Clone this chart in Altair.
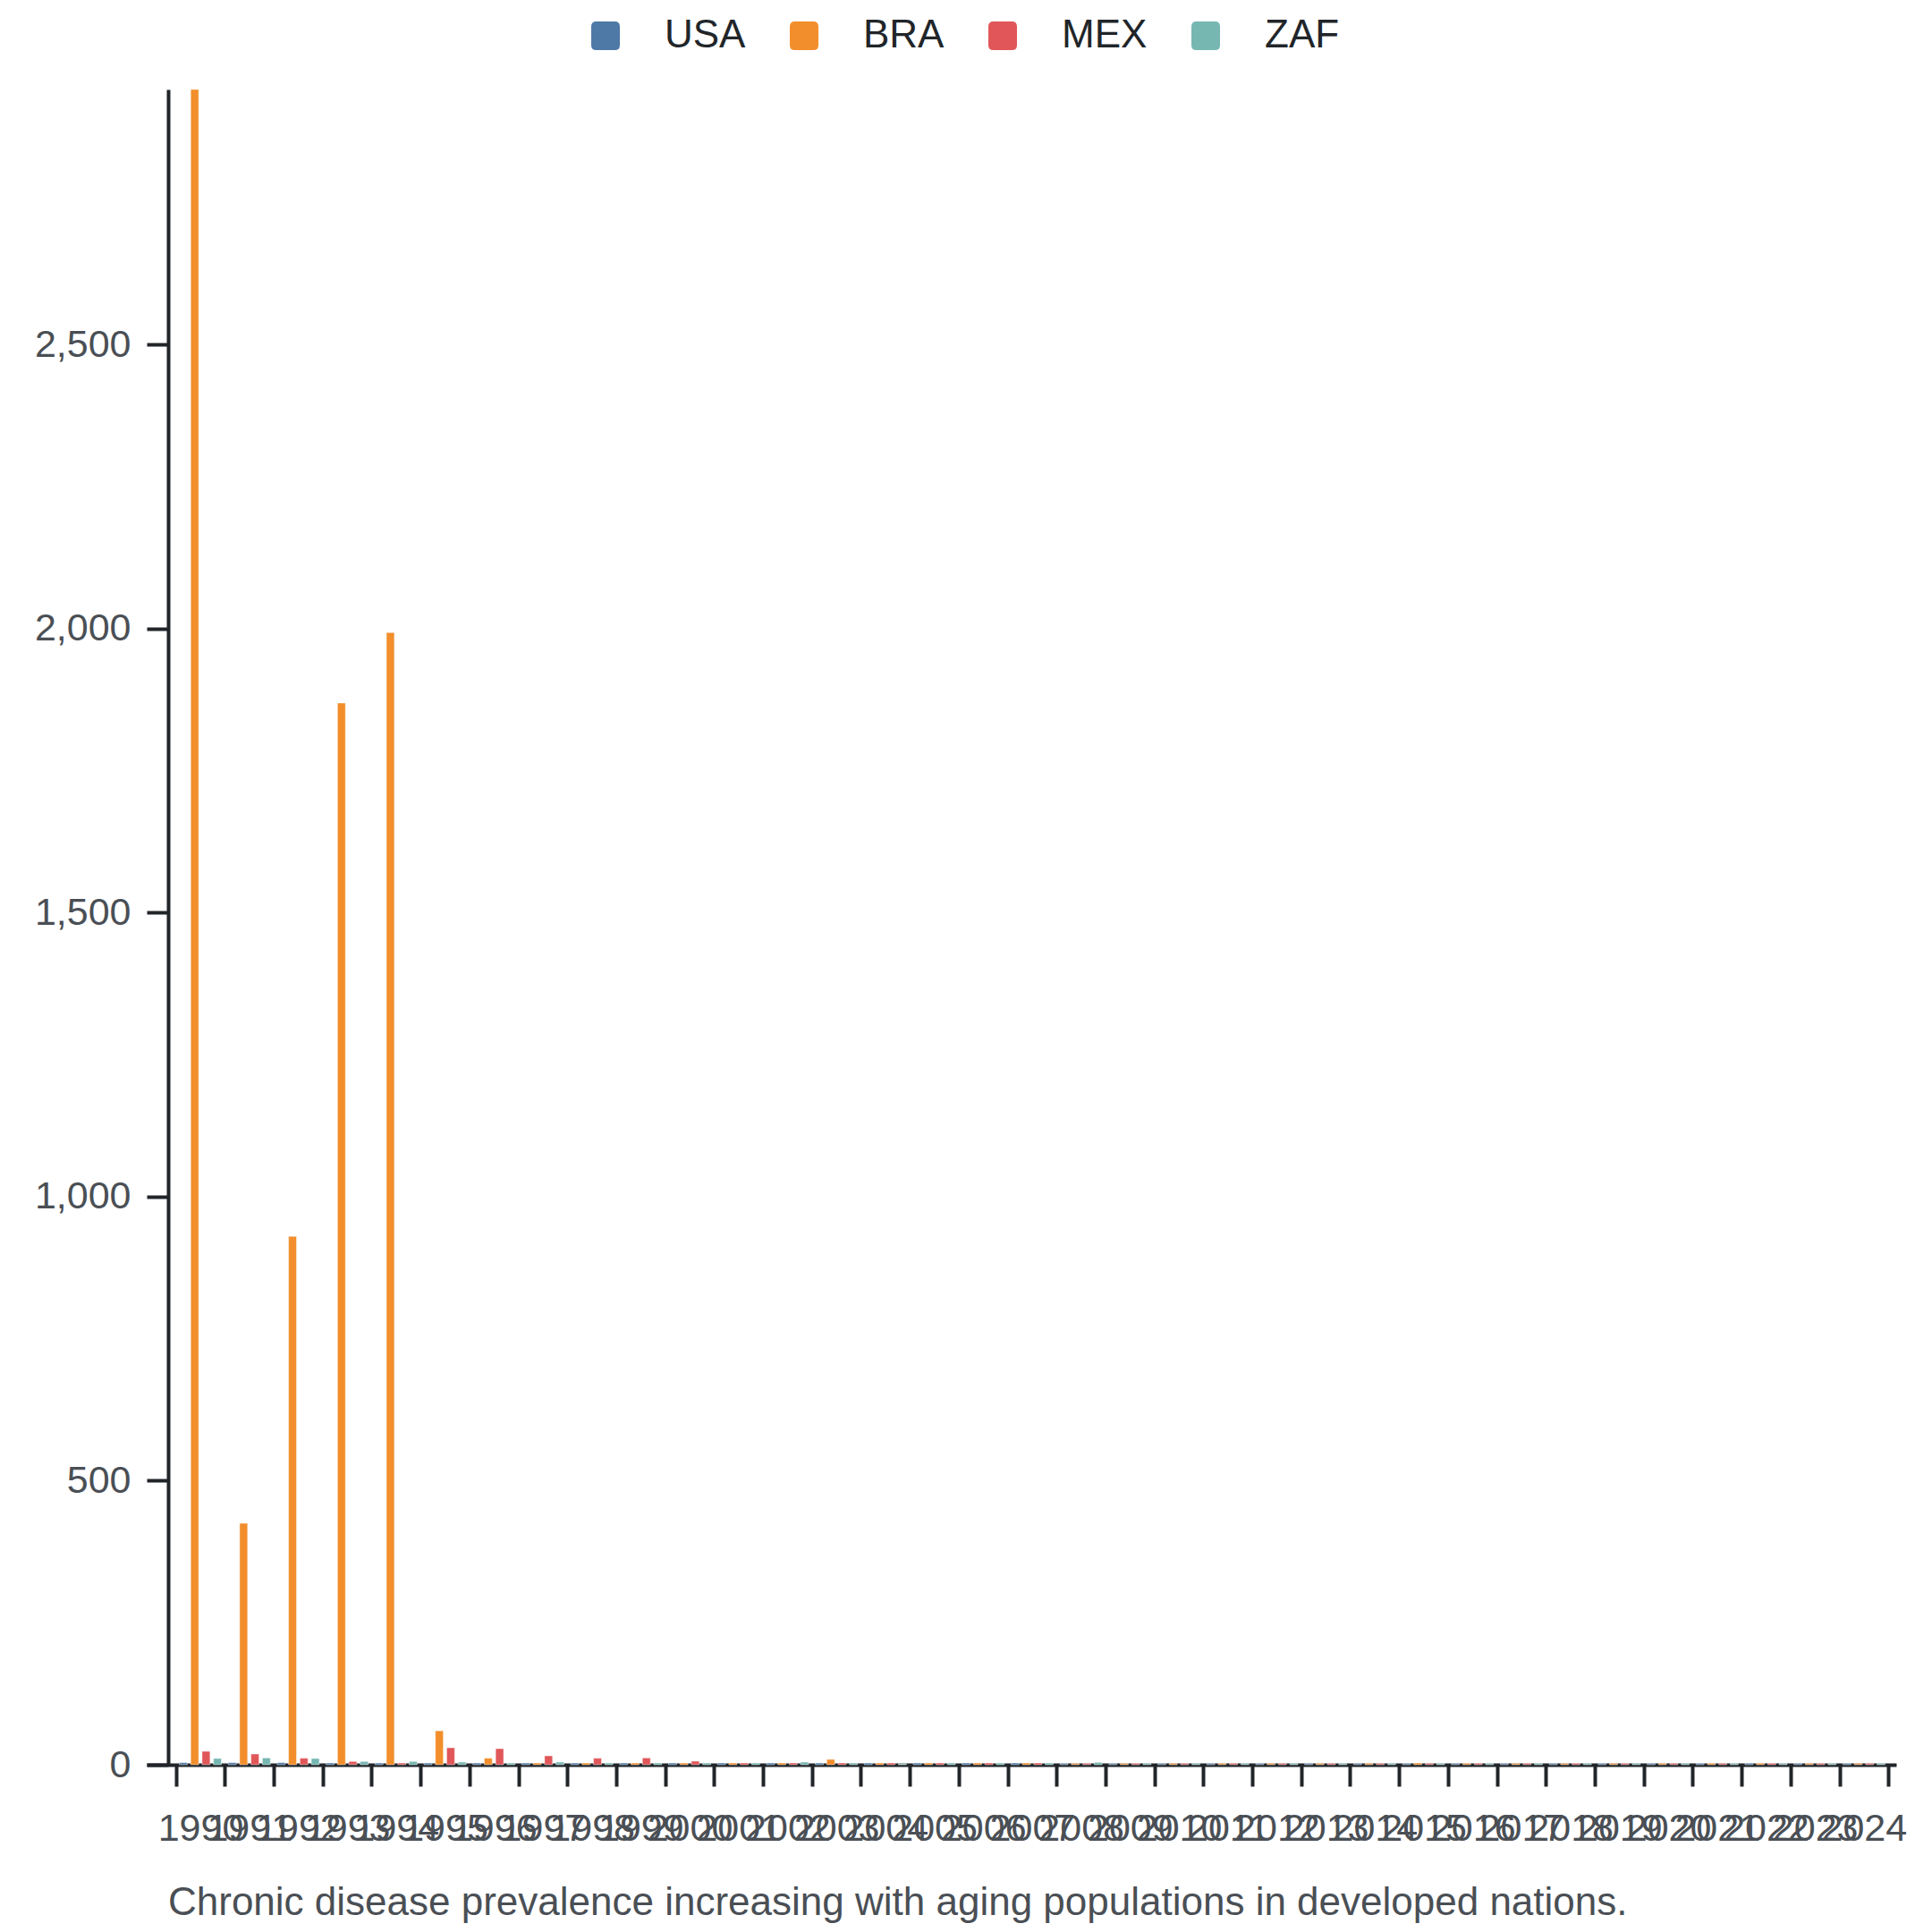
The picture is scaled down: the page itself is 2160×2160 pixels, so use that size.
import altair as alt
import pandas as pd

years = ["1990", "1991", "1992", "1993", "1994", "1995", "1996", "1997", "1998", "1999",
         "2000", "2001", "2002", "2003", "2004", "2005", "2006", "2007", "2008", "2009",
         "2010", "2011", "2012", "2013", "2014", "2015", "2016", "2017", "2018", "2019",
         "2020", "2021", "2022", "2023", "2024"]
countries = ["USA", "BRA", "MEX", "ZAF"]
usa = [3.7, 3.7, 3.7, 3.1, 3.0, 3.0, 3.0, 3.0, 3.0, 3.1,
       3.1, 3.1, 3.1, 3.1, 3.1, 3.1, 3.1, 3.1, 2.2, 2.1,
       2.2, 2.2, 2.2, 2.1, 2.2, 2.1, 2.2, 2.2, 2.2, 2.2,
       2.1, 2.4, 2.6, 2.3, 2.2]
bra = [2949, 425, 930, 1869, 1993, 59.7, 11.5, 3.1, 3.1, 3.1,
       3.1, 3.1, 3.1, 9.4, 3.1, 3.1, 3.1, 3.1, 2.2, 2.2,
       2.2, 2.3, 2.2, 2.2, 2.2, 3.0, 2.4, 2.2, 2.2, 2.2,
       2.2, 2.4, 2.5, 2.2, 2.2]
mex = [23.6, 18.9, 11.5, 5.8, 3.0, 29.9, 28.3, 15.7, 11.5, 12.0,
       6.3, 3.1, 3.1, 3.1, 3.1, 3.1, 3.1, 3.1, 2.2, 2.2,
       2.2, 2.2, 2.2, 2.2, 2.2, 2.2, 2.2, 2.3, 2.2, 2.2,
       2.2, 2.3, 2.4, 2.3, 2.2]
zaf = [11.0, 12.0, 11.0, 5.8, 5.8, 4.7, 3.1, 4.7, 3.1, 3.1,
       3.1, 3.1, 4.7, 3.1, 1.6, 3.1, 3.1, 3.1, 4.2, 2.2,
       2.2, 2.2, 2.2, 2.2, 2.2, 2.2, 2.2, 2.2, 2.2, 2.2,
       2.2, 2.2, 2.3, 2.2, 2.2]
colors = ["#4e79a7", "#f28e2b", "#e15759", "#76b7b2"]
y_ticks = [0, 500, 1000, 1500, 2000, 2500]
title_text = "Chronic disease prevalence increasing with aging populations in developed nations."

rows = []
for c, vals in zip(countries, [usa, bra, mex, zaf]):
    for yr, v in zip(years, vals):
        rows.append({"year": yr, "country": c, "value": v})
df = pd.DataFrame(rows)

FONT = "Liberation Sans"
AXIS_COLOR = "#212529"
LABEL_COLOR = "#4a4f55"
rounded_square = ("M-0.65,-1L0.65,-1Q1,-1,1,-0.65L1,0.65Q1,1,0.65,1L-0.65,1"
                  "Q-1,1,-1,0.65L-1,-0.65Q-1,-1,-0.65,-1Z")

chart = alt.Chart(df).mark_bar(
    stroke="white", strokeWidth=1, strokeOpacity=0.45
).encode(
    x=alt.X(
        "year:N", sort=years,
        scale=alt.Scale(paddingInner=0, paddingOuter=0.379, align=0.788),
        axis=alt.Axis(
            title=None, tickBand="extent", labelAngle=0, labelOverlap=False,
            tickSize=24, tickWidth=4, domainWidth=4, labelPadding=26,
            labelFontSize=43,
        ),
    ),
    xOffset=alt.XOffset(
        "country:N", sort=countries,
        scale=alt.Scale(paddingInner=0.3, paddingOuter=0.3),
    ),
    y=alt.Y(
        "value:Q",
        scale=alt.Scale(domain=[0, 2949], nice=False),
        axis=alt.Axis(
            title=None, values=y_ticks, format=",.0f", grid=False, offset=-24,
            tickSize=24, tickWidth=4, domainWidth=4, labelPadding=18,
            labelFontSize=43,
        ),
    ),
    color=alt.Color(
        "country:N", sort=countries,
        scale=alt.Scale(domain=countries, range=colors),
        legend=alt.Legend(
            title=None, orient="none", direction="horizontal",
            legendX=491, legendY=-82, padding=0,
            symbolType=rounded_square, symbolSize=1024, symbolStrokeWidth=0,
            labelFontSize=44, labelFont=FONT, labelColor="#212529",
            labelOffset=44, columnPadding=43,
        ),
    ),
).properties(
    width=1956,
    height=1873,
    autosize=alt.AutoSizeParams(type="none"),
    padding={"left": 156, "top": 92, "right": 30, "bottom": 180},
    title=alt.TitleParams(
        text=title_text, orient="bottom", anchor="start", frame="group",
        dx=24, offset=40, fontSize=44, font=FONT, color=LABEL_COLOR,
        fontWeight="normal",
    ),
).configure_view(
    stroke=None
).configure_axis(
    labelFont=FONT, labelColor=LABEL_COLOR, domainColor=AXIS_COLOR,
    tickColor=AXIS_COLOR,
)

chart.save("out.html", embed_options={"renderer": "svg", "actions": False})
